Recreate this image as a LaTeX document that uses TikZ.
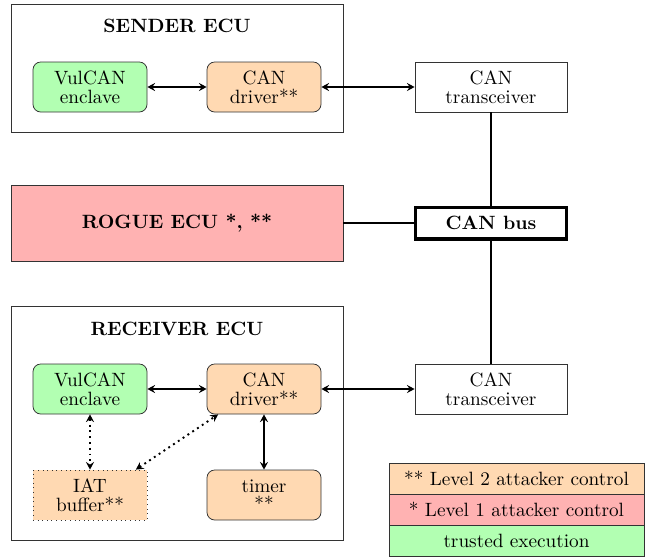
\documentclass[tikz,border=0pt]{standalone}
\usetikzlibrary{arrows.meta}
\begin{document}
\begin{tikzpicture}[x=0.52pt,y=-0.52pt,
  font=\fontsize{10}{9.6}\selectfont,
  ecu/.style={draw=black!80, line width=0.4pt, inner sep=0pt,
    minimum width=172.64pt},
  unit/.style={draw=black!80, line width=0.4pt, align=center, inner sep=0pt,
    minimum width=59.28pt, minimum height=26pt},
  enclave/.style={unit, rounded corners=4pt, fill=green!30},
  driver/.style={unit, rounded corners=4pt, fill=orange!30},
  buffer/.style={unit, dotted, fill=orange!30},
  trx/.style={unit, fill=white, minimum width=79.04pt},
  busbox/.style={draw=black, line width=1.6pt, inner sep=0pt,
    minimum width=78.5pt, minimum height=16.6pt, font=\bfseries},
  title/.style={font=\bfseries},
  legend/.style={draw=black!80, line width=0.4pt, inner sep=0pt,
    minimum width=132.6pt, minimum height=16.12pt},
  link/.style={line width=1pt, {Stealth[length=4pt,width=4.2pt,inset=1.4pt]}-{Stealth[length=4pt,width=4.2pt,inset=1.4pt]}},
  dlink/.style={link, dotted},
  wire/.style={line width=1pt}
]
\useasboundingbox (0,0) rectangle (645,558);

% sender ECU
\node[ecu, minimum height=66.56pt] (sender) at (177,68) {};
\node[title] (stitle) at (177,26) {SENDER ECU};
\node[enclave] (senc) at (90,87) {VulCAN\\enclave};
\node[driver] (sdrv) at (264,87) {CAN\\driver**};
\node[trx] (strx) at (491,87) {CAN\\transceiver};

% rogue ECU and bus
\node[ecu, minimum height=39.52pt, fill=red!30, font=\bfseries] (rogue) at (177,223) {ROGUE ECU *, **};
\node[busbox] (bus) at (491,223) {CAN bus};

% receiver ECU
\node[ecu, minimum height=121.68pt] (receiver) at (177,423) {};
\node[title] (rtitle) at (177,329) {RECEIVER ECU};
\node[enclave] (renc) at (90,389) {VulCAN\\enclave};
\node[driver] (rdrv) at (264,389) {CAN\\driver**};
\node[trx] (rtrx) at (491,389) {CAN\\transceiver};
\node[buffer] (iat) at (90,495) {IAT\\buffer**};
\node[driver] (timer) at (264,495) {timer\\**};

% connections
\draw[link] (senc) -- (sdrv);
\draw[link] (sdrv) -- (strx);
\draw[link] (renc) -- (rdrv);
\draw[link] (rdrv) -- (rtrx);
\draw[link] (rdrv) -- (timer);
\draw[dlink] (renc) -- (iat);
\draw[dlink] (iat.29) -- (rdrv.209);
\draw[wire] (strx) -- (bus);
\draw[wire] (bus) -- (rtrx);
\draw[wire] (rogue) -- (bus);

% legend
\node[legend, fill=orange!30] (lvl2) at (516.5,478.5) {** Level 2 attacker control};
\node[legend, fill=red!30] (lvl1) at (516.5,509.5) {* Level 1 attacker control};
\node[legend, fill=green!30] (trusted) at (516.5,540.5) {trusted execution};
\end{tikzpicture}
\end{document}
